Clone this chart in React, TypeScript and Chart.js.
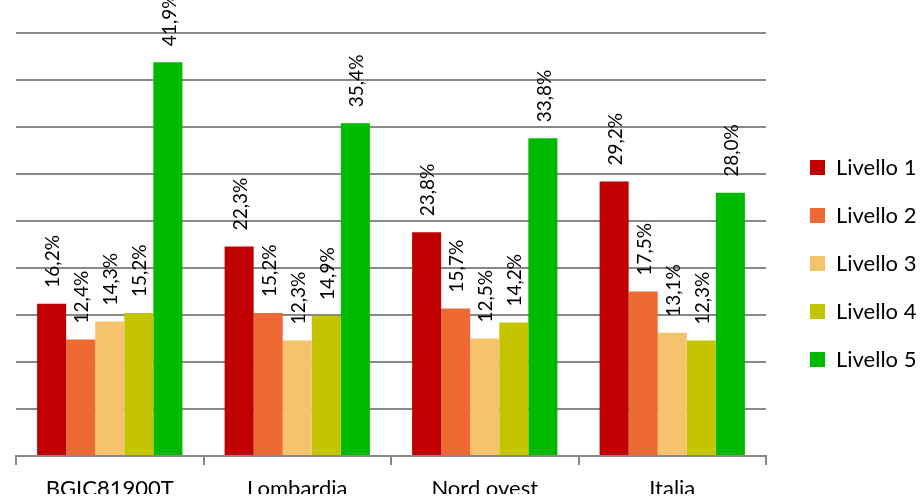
import React, { useEffect, useRef } from "react";
import { Chart, registerables } from "chart.js";

Chart.register(...registerables);

const categories = ["BGIC81900T", "Lombardia", "Nord ovest", "Italia"];
const seriesNames = ["Livello 1", "Livello 2", "Livello 3", "Livello 4", "Livello 5"];
const livello1 = [16.2, 22.3, 23.8, 29.2];
const livello2 = [12.4, 15.2, 15.7, 17.5];
const livello3 = [14.3, 12.3, 12.5, 13.1];
const livello4 = [15.2, 14.9, 14.2, 12.3];
const livello5 = [41.9, 35.4, 33.8, 28.0];
const seriesValues = [livello1, livello2, livello3, livello4, livello5];
const seriesColors = ["#C00000", "#ED6A35", "#F5C36B", "#C5C400", "#00BA00"];

const FONT = "Lato";

const barLabels = {
  id: "barLabels",
  afterDatasetsDraw(chart: any) {
    const ctx = chart.ctx;
    ctx.save();
    ctx.font = `19px ${FONT}`;
    ctx.fillStyle = "#000";
    ctx.textAlign = "left";
    ctx.textBaseline = "middle";
    chart.data.datasets.forEach((ds: any, di: number) => {
      const meta = chart.getDatasetMeta(di);
      meta.data.forEach((el: any, i: number) => {
        const v = ds.data[i] as number;
        const txt = v.toFixed(1).replace(".", ",") + "%";
        ctx.save();
        ctx.translate(el.x + 1.5, el.y - 16);
        ctx.rotate(-Math.PI / 2);
        ctx.fillText(txt, 0, 0);
        ctx.restore();
      });
    });
    ctx.restore();
  },
};

export default function App() {
  const ref = useRef<HTMLCanvasElement | null>(null);
  useEffect(() => {
    document.body.style.margin = "0";
    if (!ref.current) return;
    const chart = new Chart(ref.current, {
      type: "bar",
      data: {
        labels: categories,
        datasets: seriesNames.map((name, i) => ({
          label: name,
          data: seriesValues[i],
          backgroundColor: seriesColors[i],
          borderWidth: 0,
          categoryPercentage: 0.775,
          barPercentage: 1,
        })),
      },
      options: {
        animation: false,
        responsive: false,
        maintainAspectRatio: false,
        layout: { padding: { left: 16, top: 33, bottom: 6, right: 0 } },
        plugins: {
          legend: {
            position: "right",
            align: "center",
            maxWidth: 138,
            labels: {
              boxWidth: 15,
              boxHeight: 15,
              padding: 26,
              color: "#000",
              font: { family: FONT, size: 22 },
            },
          },
          tooltip: { enabled: false },
        },
        scales: {
          x: {
            offset: true,
            grid: {
              offset: true,
              drawOnChartArea: false,
              drawTicks: true,
              tickLength: 9,
              color: "#888888",
              lineWidth: 2,
            },
            border: { display: true, color: "#888888", width: 2 },
            ticks: {
              color: "#000",
              padding: 11,
              font: { family: FONT, size: 22 },
              maxRotation: 0,
            },
            afterFit: (s: any) => {
              s.height = 38;
            },
          },
          y: {
            min: 0,
            max: 45,
            ticks: { display: false, stepSize: 5 },
            grid: { color: "#888888", lineWidth: 2, drawTicks: false },
            border: { display: false },
          },
          yR: {
            type: "linear",
            position: "right",
            display: true,
            grid: { display: false, drawTicks: false },
            border: { display: false },
            ticks: { display: false },
            afterFit: (s: any) => {
              s.width = 18;
            },
          },
        },
      },
      plugins: [barLabels],
    });
    return () => chart.destroy();
  }, []);
  return (
    <div style={{ width: 922, height: 500 }}>
      <canvas ref={ref} width={922} height={500} style={{ display: "block" }} />
    </div>
  );
}
